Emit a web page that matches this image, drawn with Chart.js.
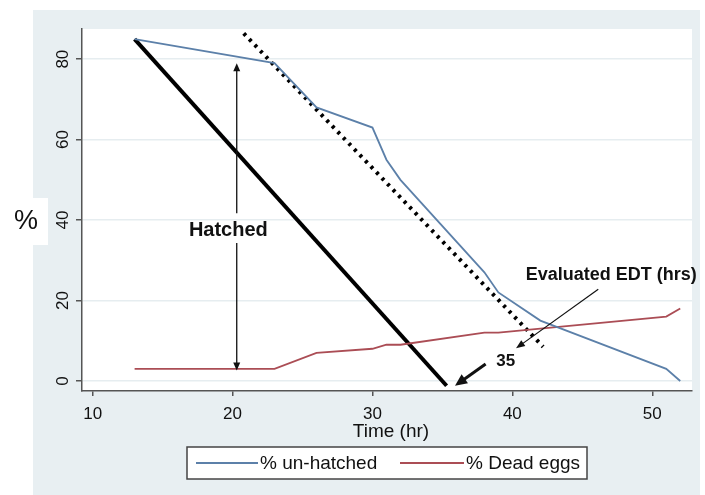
<!DOCTYPE html>
<html>
<head>
<meta charset="utf-8">
<script src="https://cdn.jsdelivr.net/npm/chart.js@4.4.0/dist/chart.umd.min.js"></script>
<style>
  html, body { margin: 0; padding: 0; background: #fff; }
  #wrap { width: 705px; height: 495px; position: relative; }
</style>
</head>
<body>
<div id="wrap"><canvas id="chart" width="705" height="495"></canvas></div>
<script>
// Data
const timeUnhatched = [13, 23, 26, 30, 31, 32, 38, 39, 42, 51, 52];
const pctUnhatched  = [85, 79, 68, 63, 55, 50, 27, 22, 15, 3, 0];
const timeDead = [13, 23, 26, 30, 31, 32, 38, 39, 51, 52];
const pctDead  = [3, 3, 7, 8, 9, 9, 12, 12, 16, 18];
const xTicks = [10, 20, 30, 40, 50];
const yTicks = [0, 20, 40, 60, 80];

// Hand drawn lines (data units)
const edtLine   = [{x: 13, y: 85}, {x: 35.3, y: -1.2}];
const slopeLine = [{x: 20.8, y: 86.4}, {x: 42.2, y: 8.5}];

// Annotations (data units)
const hatchedArrow = {x: 20.3, top: 79, bottom: 2.6, gapTop: 41.7, gapBottom: 34.3};
const hatchedLabel = {x: 19.7, y: 37.3, text: 'Hatched'};
const edtLabel = {x: 40.95, y: 26.3, text: 'Evaluated EDT (hrs)'};
const edtArrow = {x1: 46.14, y1: 22.8, x2: 40.26, y2: 8.1};
const valueLabel = {x: 39.52, y: 4.8, text: '35'};
const valueArrow = {x1: 38.09, y1: 4.2, x2: 35.9, y2: -1.2};

const FONT = "'Liberation Sans', Arial, sans-serif";
const BLUE = '#5c80a9';
const RED = '#ab4d55';

function toPoints(xs, ys) {
    return xs.map((x, i) => ({x: x, y: ys[i]}));
}

// Filled arrow head pointing to (x2, y2)
function arrowHead(ctx, x1, y1, x2, y2, len, wid) {
    const ang = Math.atan2(y2 - y1, x2 - x1);
    const c = Math.cos(ang), s = Math.sin(ang);
    ctx.beginPath();
    ctx.moveTo(x2, y2);
    ctx.lineTo(x2 - len * c + wid * s, y2 - len * s - wid * c);
    ctx.lineTo(x2 - len * c - wid * s, y2 - len * s + wid * c);
    ctx.closePath();
    ctx.fill();
}

const decor = {
    id: 'decor',
    beforeDraw(chart) {
        const ctx = chart.ctx, a = chart.chartArea;
        ctx.save();
        ctx.fillStyle = '#fff';
        ctx.fillRect(0, 0, chart.width, chart.height);
        ctx.fillStyle = '#e8eff2';
        ctx.fillRect(33, 10, 667, 485);
        ctx.fillStyle = '#fff';
        ctx.fillRect(a.left, a.top, a.right - a.left, a.bottom - a.top);
        ctx.fillRect(0, 198, 48, 47);
        ctx.restore();
    },
    afterDraw(chart) {
        const ctx = chart.ctx, xs = chart.scales.x, ys = chart.scales.y;
        const px = v => xs.getPixelForValue(v);
        const py = v => ys.getPixelForValue(v);
        ctx.save();
        ctx.fillStyle = '#111';
        ctx.strokeStyle = '#111';

        // y tick labels, rotated
        ctx.font = '17px ' + FONT;
        ctx.textAlign = 'center';
        ctx.textBaseline = 'middle';
        yTicks.forEach(v => {
            ctx.save();
            ctx.translate(63, py(v));
            ctx.rotate(-Math.PI / 2);
            ctx.fillText(String(v), 0, 0);
            ctx.restore();
        });

        // axis titles
        ctx.font = '19px ' + FONT;
        ctx.fillText('Time (hr)', 391, 432);
        ctx.font = '27px ' + FONT;
        ctx.fillText('%', 26, 222);

        // Hatched double arrow
        const ax = px(hatchedArrow.x);
        ctx.lineWidth = 1.3;
        ctx.beginPath();
        ctx.moveTo(ax, py(hatchedArrow.top) + 6);
        ctx.lineTo(ax, py(hatchedArrow.gapTop));
        ctx.moveTo(ax, py(hatchedArrow.gapBottom));
        ctx.lineTo(ax, py(hatchedArrow.bottom) - 6);
        ctx.stroke();
        arrowHead(ctx, ax, py(hatchedArrow.top) + 20, ax, py(hatchedArrow.top), 8, 3.5);
        arrowHead(ctx, ax, py(hatchedArrow.bottom) - 20, ax, py(hatchedArrow.bottom), 8, 3.5);

        ctx.font = 'bold 20px ' + FONT;
        ctx.fillText(hatchedLabel.text, px(hatchedLabel.x), py(hatchedLabel.y));

        // EDT label and thin arrow
        ctx.font = 'bold 18px ' + FONT;
        ctx.textAlign = 'left';
        ctx.fillText(edtLabel.text, px(edtLabel.x), py(edtLabel.y));
        const e1x = px(edtArrow.x1), e1y = py(edtArrow.y1), e2x = px(edtArrow.x2), e2y = py(edtArrow.y2);
        ctx.lineWidth = 1.2;
        ctx.beginPath();
        ctx.moveTo(e1x, e1y);
        ctx.lineTo(e2x + (e1x - e2x) * 0.08, e2y + (e1y - e2y) * 0.08);
        ctx.stroke();
        arrowHead(ctx, e1x, e1y, e2x, e2y, 9, 3.5);

        // 35 label and thick arrow
        ctx.font = 'bold 17px ' + FONT;
        ctx.textAlign = 'center';
        ctx.fillText(valueLabel.text, px(valueLabel.x), py(valueLabel.y));
        const v1x = px(valueArrow.x1), v1y = py(valueArrow.y1), v2x = px(valueArrow.x2), v2y = py(valueArrow.y2);
        ctx.lineWidth = 3;
        ctx.beginPath();
        ctx.moveTo(v1x, v1y);
        ctx.lineTo(v2x + (v1x - v2x) * 0.3, v2y + (v1y - v2y) * 0.3);
        ctx.stroke();
        arrowHead(ctx, v1x, v1y, v2x, v2y, 12, 5.5);

        // legend box
        ctx.fillStyle = '#fff';
        ctx.fillRect(187, 447, 400, 32);
        ctx.strokeStyle = '#444';
        ctx.lineWidth = 1.5;
        ctx.strokeRect(187, 447, 400, 32);
        const items = [
            {ds: chart.data.datasets[0], x0: 196, x1: 258},
            {ds: chart.data.datasets[1], x0: 400, x1: 464}
        ];
        ctx.font = '19px ' + FONT;
        ctx.textAlign = 'left';
        items.forEach(it => {
            ctx.strokeStyle = it.ds.borderColor;
            ctx.lineWidth = 2;
            ctx.beginPath();
            ctx.moveTo(it.x0, 463);
            ctx.lineTo(it.x1, 463);
            ctx.stroke();
            ctx.fillStyle = '#111';
            ctx.fillText(it.ds.label, it.x1 + 2, 464);
        });
        ctx.restore();
    }
};

new Chart(document.getElementById('chart'), {
    type: 'line',
    data: {
        datasets: [
            {
                label: '% un-hatched',
                data: toPoints(timeUnhatched, pctUnhatched),
                borderColor: BLUE,
                borderWidth: 1.8,
                pointRadius: 0,
                tension: 0
            },
            {
                label: '% Dead eggs',
                data: toPoints(timeDead, pctDead),
                borderColor: RED,
                borderWidth: 1.8,
                pointRadius: 0,
                tension: 0
            },
            {
                label: 'edt',
                data: edtLine,
                borderColor: '#000',
                borderWidth: 4,
                pointRadius: 0
            },
            {
                label: 'slope',
                data: slopeLine,
                borderColor: '#000',
                borderWidth: 4,
                borderDash: [3, 5],
                pointRadius: 0
            }
        ]
    },
    options: {
        responsive: false,
        animation: false,
        events: [],
        layout: { padding: { top: 29, right: 13, bottom: 0, left: 0 } },
        plugins: {
            legend: { display: false },
            tooltip: { enabled: false }
        },
        scales: {
            x: {
                type: 'linear',
                min: 9.24,
                max: 52.84,
                afterFit: s => { s.height = 104; },
                afterBuildTicks: s => { s.ticks = xTicks.map(v => ({value: v})); },
                grid: { color: 'rgba(0,0,0,0)', tickColor: '#555', tickLength: 5, lineWidth: 1.5 },
                border: { color: '#555', width: 1.5 },
                ticks: { color: '#111', font: { family: FONT, size: 17 }, padding: 8, maxRotation: 0 }
            },
            y: {
                type: 'linear',
                min: -2.5,
                max: 87.5,
                afterFit: s => { s.width = 82; },
                afterBuildTicks: s => { s.ticks = yTicks.map(v => ({value: v})); },
                grid: { color: '#e6edf0', tickColor: '#555', tickLength: 6, lineWidth: 1.5 },
                border: { color: '#555', width: 1.5 },
                ticks: { display: false }
            }
        }
    },
    plugins: [decor]
});
</script>
</body>
</html>
